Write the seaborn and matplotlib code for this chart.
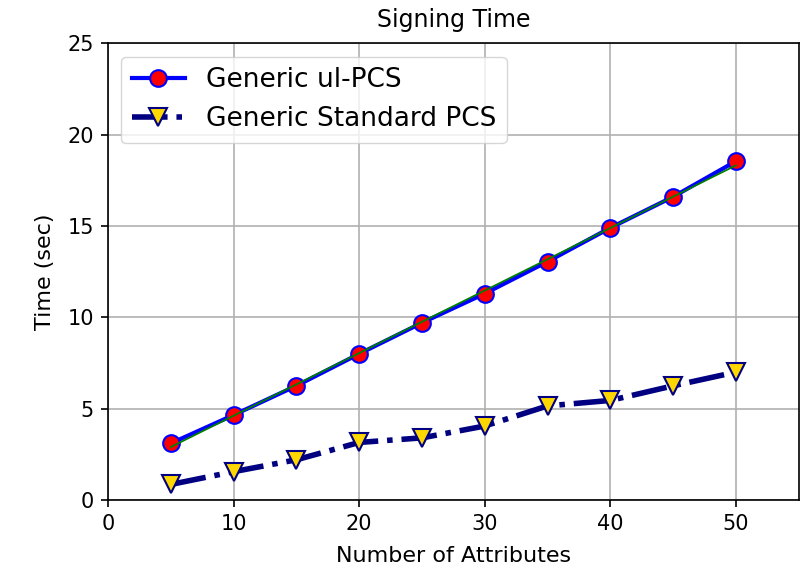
import numpy as np
import matplotlib
matplotlib.use("Agg")
import matplotlib.pyplot as plt
import seaborn as sns

attributes = [5, 10, 15, 20, 25, 30, 35, 40, 45, 50]
ul_pcs_time = [3.1, 4.65, 6.25, 8.0, 9.7, 11.3, 13.05, 14.9, 16.6, 18.55]
standard_pcs_time = [0.85, 1.55, 2.2, 3.15, 3.4, 4.05, 5.15, 5.45, 6.25, 7.0]

plt.rcParams["font.family"] = ["DejaVu Sans"]

fig, ax = plt.subplots(figsize=(8.06, 5.78), dpi=100)
fig.subplots_adjust(left=0.134, right=0.991, top=0.925, bottom=0.135)

sns.lineplot(x=attributes, y=ul_pcs_time, ax=ax, color="blue", linewidth=3,
             marker="o", markersize=12, markerfacecolor="red",
             markeredgecolor="blue", markeredgewidth=1.5,
             label="Generic ul-PCS", zorder=3)
sns.lineplot(x=attributes, y=standard_pcs_time, ax=ax, color="navy", linewidth=4,
             linestyle="-.", marker="v", markersize=13, markerfacecolor="gold",
             markeredgecolor="navy", markeredgewidth=1.5,
             label="Generic Standard PCS", zorder=3)

# least-squares trend of the ul-PCS timings
slope, intercept = np.polyfit(attributes, ul_pcs_time, 1)
trend = [slope * a + intercept for a in attributes]
ax.plot(attributes, trend, color="green", linewidth=1.3, zorder=4)

ax.set_xlim(0, 55)
ax.set_ylim(0, 25)
ax.set_xticks([0, 10, 20, 30, 40, 50])
ax.set_yticks([0, 5, 10, 15, 20, 25])
ax.grid(True, color="#b0b0b0", linewidth=1.2)
ax.set_axisbelow(True)
ax.tick_params(labelsize=15, length=5, width=1.2, pad=5)
for s in ax.spines.values():
    s.set_linewidth(1.2)

ax.set_title("Signing Time", fontsize=17, pad=12)
ax.set_xlabel("Number of Attributes", fontsize=16, labelpad=9)
ax.set_ylabel("Time (sec)", fontsize=16, labelpad=9)

leg = ax.legend(loc="upper left", fontsize=19, handlelength=2.0, framealpha=0.8)

fig.savefig("out.png", dpi=100)
